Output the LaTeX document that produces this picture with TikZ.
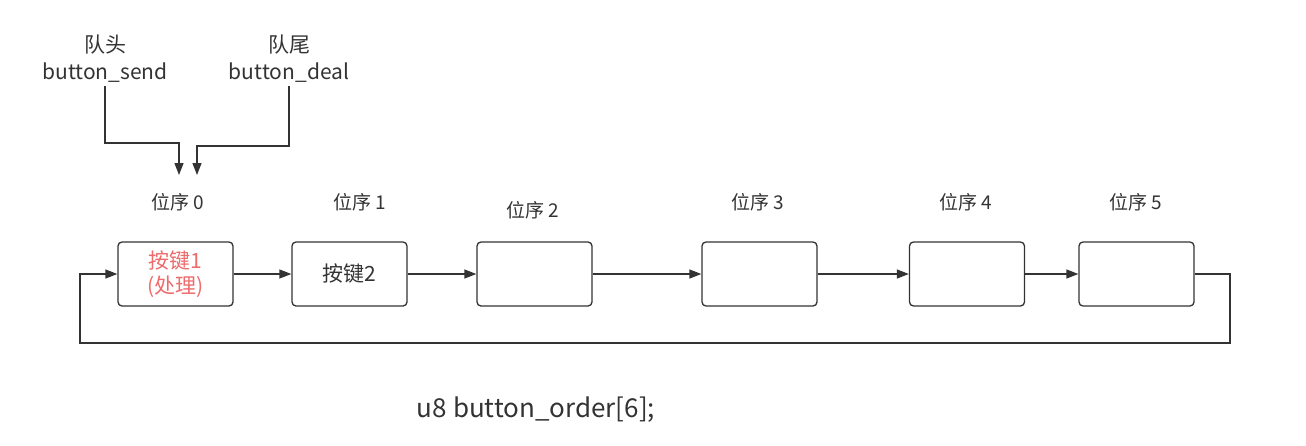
\documentclass[tikz,border=0pt]{standalone}
\usepackage{fontspec}
\setmainfont{Noto Sans CJK SC}
\usetikzlibrary{arrows.meta}
\definecolor{ln}{HTML}{333333}
\definecolor{redt}{HTML}{EE6B6B}
\begin{document}
\begin{tikzpicture}[x=1pt,y=-1pt,
  cell/.style={draw=ln,line width=1.3pt,rounded corners=4pt,minimum width=115pt,minimum height=64pt,inner sep=0pt},
  lbl/.style={font=\fontsize{19}{22}\selectfont,text=ln,inner sep=0pt},
  conn/.style={draw=ln,line width=1.3pt,-{Triangle[length=12pt,width=9pt]}},
  plain/.style={draw=ln,line width=1.3pt}]
\useasboundingbox (0,0) rectangle (1306,445);
\node[cell] (b0) at (175.5,274) {};
\node[cell] (b1) at (349.5,274) {};
\node[cell] (b2) at (534.5,274) {};
\node[cell] (b3) at (759.5,274) {};
\node[cell] (b4) at (967,274) {};
\node[cell] (b5) at (1136.5,274) {};
\node[lbl,text=redt,align=center,font=\fontsize{21}{25}\selectfont] (t0) at (175.5,274) {按键1\\(处理)};
\node[lbl,font=\fontsize{21}{25}\selectfont] (t1) at (349.5,274) {按键2};
\node[lbl] (p0) at (178,202) {位序 0};
\node[lbl] (p1) at (360,202) {位序 1};
\node[lbl] (p2) at (533,210) {位序 2};
\node[lbl] (p3) at (758,202) {位序 3};
\node[lbl] (p4) at (966,202) {位序 4};
\node[lbl] (p5) at (1136,202) {位序 5};
\node[lbl,align=center,font=\fontsize{21}{27}\selectfont] (head) at (105,59) {队头\\button\_send};
\node[lbl,align=center,font=\fontsize{21}{27}\selectfont] (tail) at (289,59) {队尾\\button\_deal};
\node[lbl,font=\fontsize{26}{30}\selectfont] (code) at (536,410) {u8 button\_order[6];};
\coordinate (h1) at (105,86);
\coordinate (h2) at (179,175);
\coordinate (e1) at (289,86);
\coordinate (e2) at (197,175);
\draw[conn] (h1) |- (179,143) -- (h2);
\draw[conn] (e1) |- (197,146) -- (e2);
\draw[conn] (b0.east) -- (b1.west);
\draw[conn] (b1.east) -- (b2.west);
\draw[conn] (b2.east) -- (b3.west);
\draw[conn] (b3.east) -- (b4.west);
\draw[conn] (b4.east) -- (b5.west);
\draw[conn] (b5.east) -- (1230,274) -- (1230,343) -- (80,343) -- (80,274) -- (b0.west);
\end{tikzpicture}
\end{document}
